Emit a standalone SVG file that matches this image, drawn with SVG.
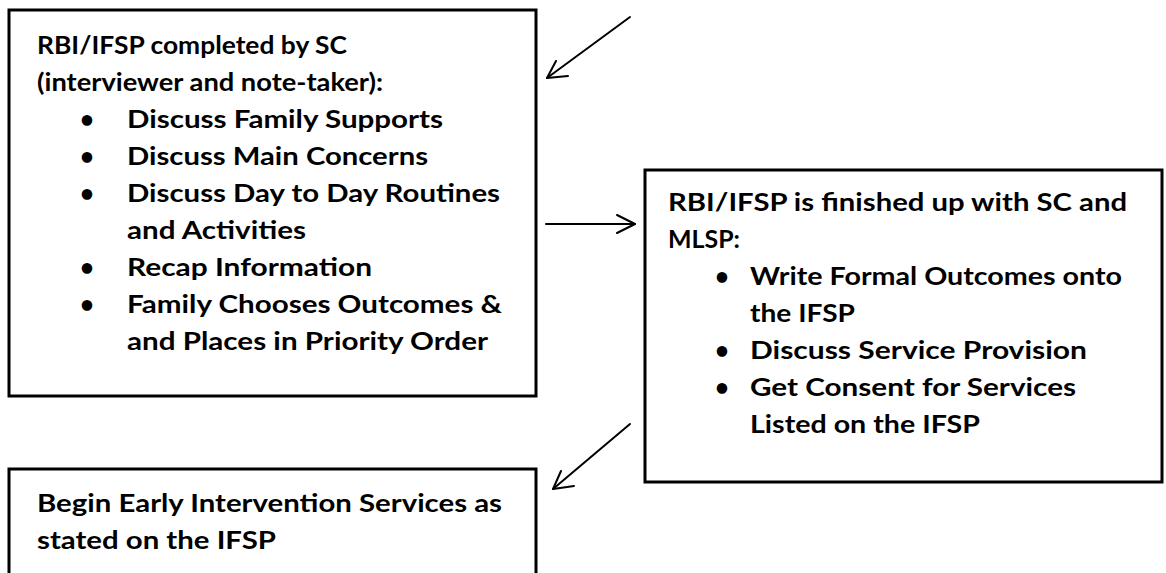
<svg xmlns="http://www.w3.org/2000/svg" width="1166" height="573" viewBox="0 0 1166 573">
<style>
.box{fill:#fff;stroke:#000;stroke-width:3}
.t{font-family:Lato,"Open Sans","Liberation Sans",sans-serif;font-weight:bold;font-size:24px;fill:#000}
.c{fill:none;stroke:#000;stroke-width:2;stroke-linecap:round;stroke-linejoin:round}
</style>
<rect width="1166" height="573" fill="#fff"/>
<g id="node-rbi-completed">
<rect class="box" x="9" y="10" width="527" height="386"/>
<text class="t" x="37" y="54" textLength="310" lengthAdjust="spacingAndGlyphs">RBI/IFSP completed by SC</text>
<text class="t" x="37" y="91" textLength="346" lengthAdjust="spacingAndGlyphs">(interviewer and note-taker):</text>
<text class="t" x="80" y="128">•</text>
<text class="t" x="127" y="128" textLength="316" lengthAdjust="spacingAndGlyphs">Discuss Family Supports</text>
<text class="t" x="80" y="165">•</text>
<text class="t" x="127" y="165" textLength="301" lengthAdjust="spacingAndGlyphs">Discuss Main Concerns</text>
<text class="t" x="80" y="202">•</text>
<text class="t" x="127" y="202" textLength="373" lengthAdjust="spacingAndGlyphs">Discuss Day to Day Routines</text>
<text class="t" x="127" y="239" textLength="179" lengthAdjust="spacingAndGlyphs">and Activities</text>
<text class="t" x="80" y="276">•</text>
<text class="t" x="127" y="276" textLength="245" lengthAdjust="spacingAndGlyphs">Recap Information</text>
<text class="t" x="80" y="313">•</text>
<text class="t" x="127" y="313" textLength="375" lengthAdjust="spacingAndGlyphs">Family Chooses Outcomes &amp;</text>
<text class="t" x="127" y="350" textLength="361" lengthAdjust="spacingAndGlyphs">and Places in Priority Order</text>
</g>
<g id="node-rbi-finished">
<rect class="box" x="645" y="170" width="517" height="312"/>
<text class="t" x="668" y="211" textLength="459" lengthAdjust="spacingAndGlyphs">RBI/IFSP is finished up with SC and</text>
<text class="t" x="668" y="248" textLength="72" lengthAdjust="spacingAndGlyphs">MLSP:</text>
<text class="t" x="715" y="285">•</text>
<text class="t" x="750" y="285" textLength="372" lengthAdjust="spacingAndGlyphs">Write Formal Outcomes onto</text>
<text class="t" x="750" y="322" textLength="105" lengthAdjust="spacingAndGlyphs">the IFSP</text>
<text class="t" x="715" y="359">•</text>
<text class="t" x="750" y="359" textLength="337" lengthAdjust="spacingAndGlyphs">Discuss Service Provision</text>
<text class="t" x="715" y="396">•</text>
<text class="t" x="750" y="396" textLength="326" lengthAdjust="spacingAndGlyphs">Get Consent for Services</text>
<text class="t" x="750" y="433" textLength="230" lengthAdjust="spacingAndGlyphs">Listed on the IFSP</text>
</g>
<g id="node-begin-services">
<rect class="box" x="9" y="469" width="527" height="130"/>
<text class="t" x="37" y="512" textLength="465" lengthAdjust="spacingAndGlyphs">Begin Early Intervention Services as</text>
<text class="t" x="37" y="549" textLength="239" lengthAdjust="spacingAndGlyphs">stated on the IFSP</text>
</g>
<g id="connectors">
<line class="c" x1="630" y1="17" x2="547" y2="78"/>
<polyline class="c" points="556,61 547,78 568,76"/>
<line class="c" x1="546" y1="224" x2="635" y2="224"/>
<polyline class="c" points="617,215 635,224 617,233"/>
<line class="c" x1="630" y1="424" x2="553" y2="489"/>
<polyline class="c" points="561,471 553,489 574,486"/>
</g>
</svg>
